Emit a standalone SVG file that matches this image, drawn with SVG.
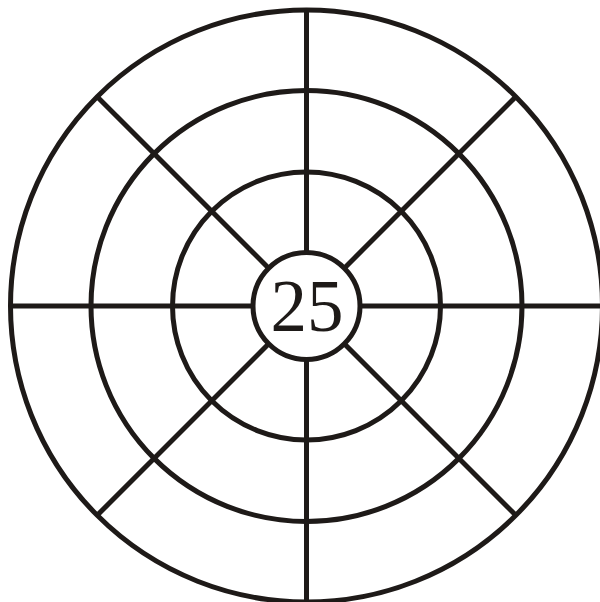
<svg xmlns="http://www.w3.org/2000/svg" width="600" height="602" viewBox="0 0 600 602">
<style>
.ring{fill:none;stroke:#1e1a18;stroke-width:5}
.spoke{stroke:#1e1a18;stroke-width:5;fill:none}
.num{font-family:"Liberation Serif","Times New Roman",serif;font-size:73px;fill:#1e1a18;text-anchor:middle}
</style>
<rect width="600" height="602" fill="#ffffff"/>
<g id="ring-outer"><circle class="ring" cx="306.5" cy="306" r="296"/></g>
<g id="ring-2"><circle class="ring" cx="306.5" cy="306" r="215.5"/></g>
<g id="ring-3"><circle class="ring" cx="306.5" cy="306" r="134"/></g>
<g id="connectors">
<line class="spoke" x1="306.5" y1="10" x2="306.5" y2="252.5"/>
<line class="spoke" x1="306.5" y1="359.5" x2="306.5" y2="602"/>
<line class="spoke" x1="10.5" y1="306" x2="253" y2="306"/>
<line class="spoke" x1="360" y1="306" x2="602.5" y2="306"/>
<line class="spoke" x1="97.2" y1="96.7" x2="268.7" y2="268.2"/>
<line class="spoke" x1="515.8" y1="96.7" x2="344.3" y2="268.2"/>
<line class="spoke" x1="97.2" y1="515.3" x2="268.7" y2="343.8"/>
<line class="spoke" x1="515.8" y1="515.3" x2="344.3" y2="343.8"/>
</g>
<g id="center"><circle class="ring" cx="306.5" cy="306" r="53.5"/><text class="num" x="307" y="331">25</text></g>
</svg>
